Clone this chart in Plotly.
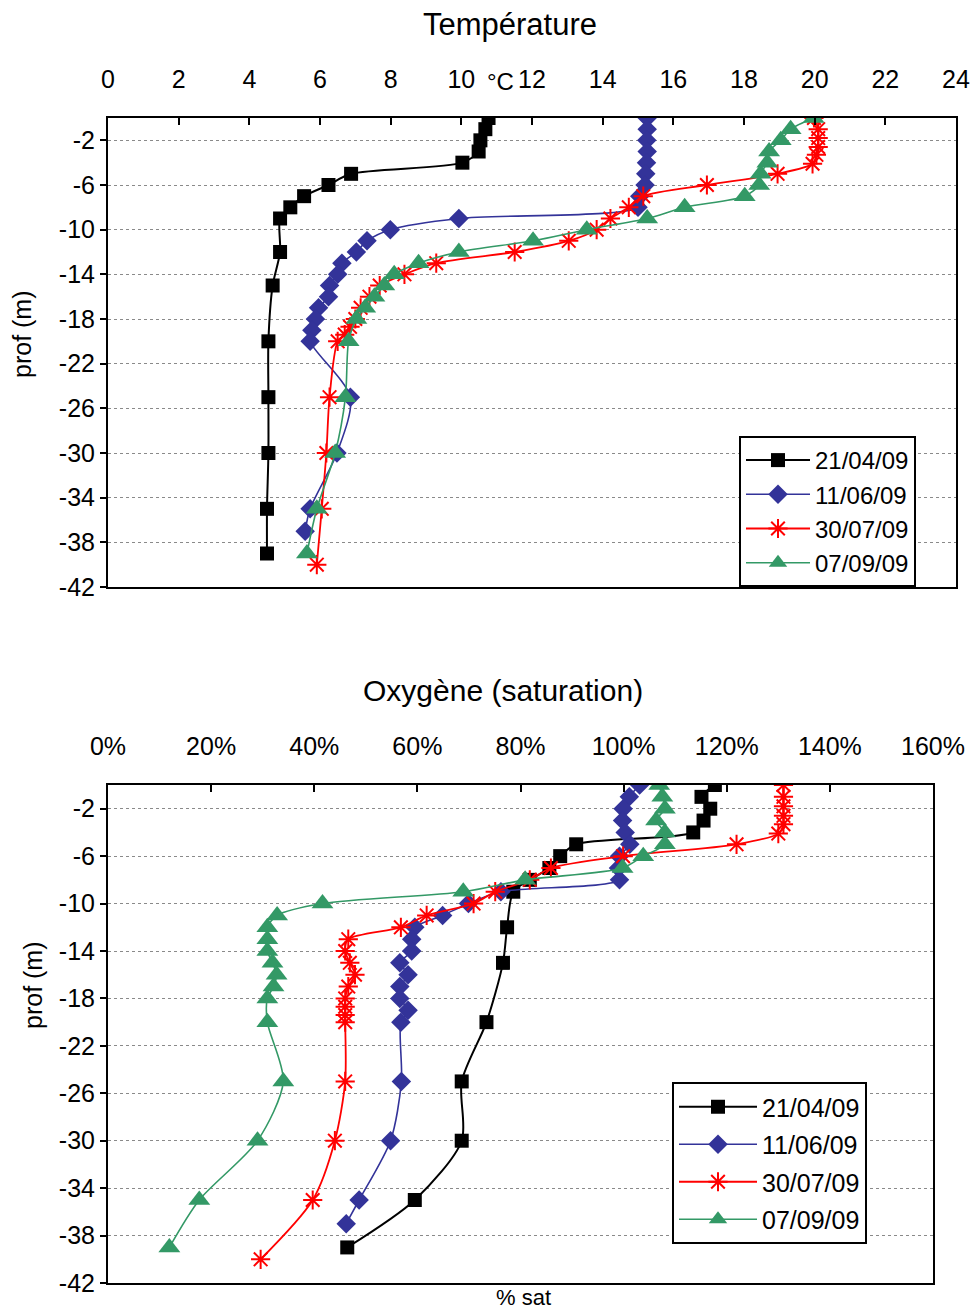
import plotly.graph_objects as go

# ---------------- data ----------------
dates = ["21/04/09", "11/06/09", "30/07/09", "07/09/09"]

depth_2104 = [0, -1, -2, -3, -4, -5, -6, -7, -8, -9, -12, -15, -20, -25, -30, -35, -39]
temp_2104 = [10.77, 10.68, 10.54, 10.49, 10.03, 6.88, 6.24, 5.55, 5.16, 4.87, 4.87, 4.66, 4.54, 4.54, 4.54, 4.5, 4.5]
oxy_2104 = [117.7, 115.1, 116.8, 115.5, 113.5, 90.8, 87.7, 85.6, 81.8, 78.6, 77.4, 76.6, 73.4, 68.6, 68.6, 59.5, 46.4]

depth_1106 = [0, -1, -2, -3, -4, -5, -6, -7, -8, -9, -10, -11, -12, -13, -14, -15, -16, -17, -18, -19, -20, -25, -30, -35, -37]
temp_1106 = [15.26, 15.26, 15.25, 15.26, 15.24, 15.22, 15.2, 15.05, 15.0, 9.93, 7.99, 7.33, 7.03, 6.62, 6.5, 6.27, 6.24, 5.96, 5.87, 5.77, 5.72, 6.86, 6.48, 5.72, 5.58]
oxy_1106 = [103.1, 101.1, 99.9, 99.8, 100.3, 101.2, 99.2, 99.0, 99.2, 76.2, 69.9, 64.9, 59.5, 58.9, 58.9, 56.6, 58.2, 56.6, 56.6, 58.2, 56.8, 56.9, 54.8, 48.7, 46.2]

depth_3007 = [0, -1, -1.8, -2.6, -3.3, -4.1, -5, -6, -7, -8, -9, -10, -11, -12, -13, -14, -15, -16, -17, -18, -18.7, -19.4, -20, -25, -30, -35, -40]
temp_3007 = [19.98, 20.1, 20.1, 20.1, 20.05, 19.94, 18.95, 16.95, 15.15, 14.74, 14.22, 13.83, 13.04, 11.51, 9.29, 8.39, 7.69, 7.4, 7.15, 7.0, 6.85, 6.7, 6.5, 6.27, 6.18, 6.05, 5.91]
oxy_3007 = [131, 131, 131, 131, 131, 130, 121.9, 99.9, 85.9, 81.8, 75.1, 70.9, 61.8, 56.8, 46.6, 46.0, 46.9, 47.9, 46.6, 46.0, 46.0, 46.0, 46.0, 46.0, 44.0, 39.7, 29.6]

depth_0709 = [0, -1, -2, -3, -4, -5, -6, -7, -8, -9, -10, -11, -12, -13, -14, -15, -16, -17, -18, -20, -25, -30, -35, -39]
temp_0709 = [19.97, 19.32, 19.04, 18.71, 18.66, 18.47, 18.43, 18.02, 16.32, 15.26, 13.55, 12.03, 9.93, 8.79, 8.1, 7.82, 7.54, 7.28, 7.03, 6.81, 6.72, 6.43, 5.91, 5.63]
oxy_0709 = [106.9, 107.5, 108.0, 106.3, 108.0, 108.0, 103.8, 99.8, 80.9, 68.9, 41.6, 32.8, 30.9, 30.9, 30.9, 31.9, 32.7, 32.1, 30.9, 30.9, 34.0, 29.0, 17.7, 11.9]

temp_ticks = list(range(0, 25, 2))
oxy_ticks = list(range(0, 161, 20))
oxy_ticktext = ["0%", "20%", "40%", "60%", "80%", "100%", "120%", "140%", "160%"]
depth_ticks = [-2, -6, -10, -14, -18, -22, -26, -30, -34, -38, -42]
depth_ticktext = ["-2", "-6", "-10", "-14", "-18", "-22", "-26", "-30", "-34", "-38", "-42"]

# ---------------- styles ----------------
FONT = "Liberation Sans, Arial, sans-serif"
styles = [
    dict(color="#000000", symbol="square", size=14, lw=2.0),
    dict(color="#333399", symbol="diamond", size=15, lw=1.6),
    dict(color="#FF0000", symbol="asterisk-open", size=16, lw=1.8),
    dict(color="#339966", symbol="triangle-up", size=19, lw=1.6),
]
depths = [depth_2104, depth_1106, depth_3007, depth_0709]
temps = [temp_2104, temp_1106, temp_3007, temp_0709]
oxys = [oxy_2104, oxy_1106, oxy_3007, oxy_0709]

fig = go.Figure()


def add_series(xs, i, xa, ya, leg):
    s = styles[i]
    marker = dict(symbol=s["symbol"], size=s["size"], color=s["color"])
    if s["symbol"] == "asterisk-open":
        marker["line"] = dict(color=s["color"], width=2)
    fig.add_trace(go.Scatter(
        x=xs, y=depths[i], name=dates[i], mode="lines+markers",
        line=dict(color=s["color"], width=s["lw"], shape="spline", smoothing=0.8),
        marker=marker, xaxis=xa, yaxis=ya, legend=leg,
        legendgroup=leg + str(i),
    ))


for i in range(4):
    add_series(temps[i], i, "x", "y", "legend")
for i in range(4):
    add_series(oxys[i], i, "x2", "y2", "legend2")

W, H = 973, 1310


def px_x(v):
    return v / W


def px_y(v):
    return 1 - v / H


axis_common = dict(
    showline=True, linecolor="black", linewidth=2, mirror=True,
    tickfont=dict(family=FONT, size=25, color="black"),
    zeroline=False, automargin=False,
)
xcommon = dict(side="top", ticks="inside", ticklen=7, tickwidth=1.5, tickcolor="black",
               showgrid=False, ticklabelstandoff=18)
ycommon = dict(range=[-42, 0], tickvals=depth_ticks, ticktext=depth_ticktext,
               ticks="outside", ticklen=6, tickwidth=1.5, tickcolor="black",
               showgrid=True, gridcolor="#8a8a8a", gridwidth=1, griddash="dot")

fig.update_layout(
    width=W, height=H,
    margin=dict(l=0, r=0, t=0, b=0),
    paper_bgcolor="white", plot_bgcolor="white",
    font=dict(family=FONT, color="black"),
    xaxis=dict(domain=[px_x(108), px_x(956)], anchor="y", range=[0, 24],
               tickvals=temp_ticks, **xcommon, **axis_common),
    yaxis=dict(domain=[px_y(587), px_y(118)], anchor="x", **ycommon, **axis_common),
    xaxis2=dict(domain=[px_x(108), px_x(933)], anchor="y2", range=[0, 160],
                tickvals=oxy_ticks, ticktext=oxy_ticktext, **xcommon, **axis_common),
    yaxis2=dict(domain=[px_y(1283), px_y(785)], anchor="x2", **ycommon, **axis_common),
    legend=dict(
        x=px_x(739), y=px_y(436), xanchor="left", yanchor="top",
        bgcolor="white", bordercolor="black", borderwidth=2,
        font=dict(family=FONT, size=24, color="black"),
        tracegroupgap=0, traceorder="grouped", itemwidth=64,
    ),
    legend2=dict(
        x=px_x(672), y=px_y(1082), xanchor="left", yanchor="top",
        bgcolor="white", bordercolor="black", borderwidth=2,
        font=dict(family=FONT, size=25, color="black"),
        tracegroupgap=2, traceorder="grouped", itemwidth=78,
    ),
    showlegend=True,
)

annots = [
    dict(text="Température", x=px_x(510), y=px_y(24), size=31),
    dict(text="Oxygène (saturation)", x=px_x(503), y=px_y(690), size=30),
    dict(text="°C", x=px_x(500), y=px_y(82), size=24),
    dict(text="% sat", x=px_x(523), y=px_y(1297), size=22),
]
for a in annots:
    fig.add_annotation(text=a["text"], x=a["x"], y=a["y"], xref="paper", yref="paper",
                       xanchor="center", yanchor="middle", showarrow=False,
                       font=dict(family=FONT, size=a["size"], color="black"))
for yc, xc in [(334, 22), (985, 33)]:
    fig.add_annotation(text="prof (m)", x=px_x(xc), y=px_y(yc), xref="paper", yref="paper",
                       xanchor="center", yanchor="middle", showarrow=False, textangle=-90,
                       font=dict(family=FONT, size=25, color="black"))

fig.write_html(
    "out.html",
    config={"displayModeBar": False},
    post_script="document.body.style.margin='0px';document.body.style.overflow='hidden';",
)
